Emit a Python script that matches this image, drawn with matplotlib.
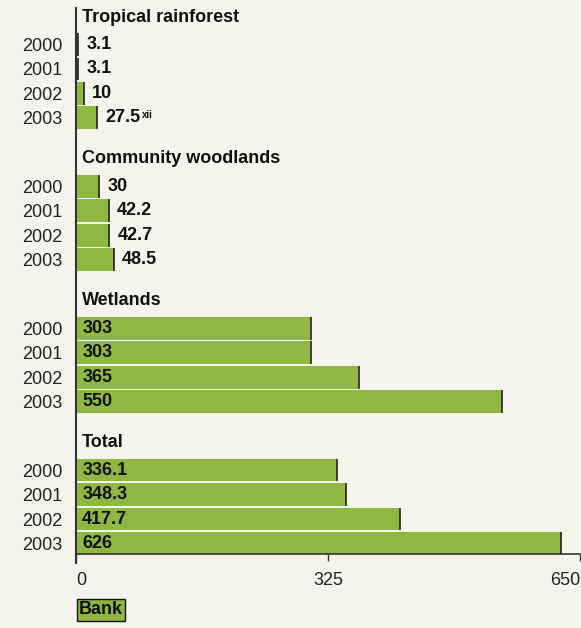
import matplotlib
matplotlib.use("Agg")
import matplotlib.pyplot as plt
from matplotlib.transforms import offset_copy

plt.rcParams['font.family'] = ['Liberation Sans', 'DejaVu Sans']

groups = ["Tropical rainforest", "Community woodlands", "Wetlands", "Total"]
years = ["2000", "2001", "2002", "2003"]
tropical = [3.1, 3.1, 10, 27.5]
woodlands = [30, 42.2, 42.7, 48.5]
wetlands = [303, 303, 365, 550]
total = [336.1, 348.3, 417.7, 626]
value_labels = [["3.1", "3.1", "10", "27.5"],
                ["30", "42.2", "42.7", "48.5"],
                ["303", "303", "365", "550"],
                ["336.1", "348.3", "417.7", "626"]]
notes = {(0, 3): "xii"}
series = [tropical, woodlands, wetlands, total]
xticks = [0, 325, 650]
legend_label = "Bank"

BG = "#f5f4ec"
GREEN = "#8fb843"
TXT = "#111111"
FS = 13

fig = plt.figure(figsize=(5.81, 6.28), dpi=100, facecolor=BG)
ax = fig.add_axes([76/581, 1-554/628, (580-76)/581, (554-8)/628])
ax.set_facecolor(BG)

group_step = 5.8
first_off = 1.12
ypos_all, ylab_all = [], []
tr_in = offset_copy(ax.transData, fig=fig, x=4.5, y=0, units='points')
tr_out = offset_copy(ax.transData, fig=fig, x=6, y=0, units='points')
for g, (name, vals) in enumerate(zip(groups, series)):
    base = g * group_step
    ax.text(0, base, name, transform=tr_in, fontsize=FS, fontweight='bold',
            va='center', ha='left', color=TXT)
    ys = [base + first_off + i for i in range(len(vals))]
    ax.barh(ys, vals, height=0.93, color=GREEN, edgecolor='none', zorder=2)
    ax.vlines(vals, [y - 0.465 for y in ys], [y + 0.465 for y in ys],
              color='#222222', lw=1.2, zorder=3)
    for i, (y, v) in enumerate(zip(ys, vals)):
        lab = value_labels[g][i]
        if v > 100:
            t = ax.text(0, y, lab, transform=tr_in, fontsize=FS, fontweight='bold',
                        va='center', ha='left', color=TXT, zorder=4)
        else:
            t = ax.text(v, y, lab, transform=tr_out, fontsize=FS, fontweight='bold',
                        va='center', ha='left', color=TXT, zorder=4)
        if (g, i) in notes:
            ax.annotate(notes[(g, i)], xy=(1.02, 0.98), xycoords=t, fontsize=7,
                        fontweight='bold', va='top', ha='left', color=TXT)
    ypos_all += ys
    ylab_all += years

ax.set_yticks(ypos_all)
ax.set_yticklabels(ylab_all, fontsize=FS, color='#222222')
ax.tick_params(axis='y', length=0, pad=10)
ax.set_xticks(xticks)
labs = ax.set_xticklabels([str(x) for x in xticks], fontsize=FS, color='#222222')
labs[-1].set_horizontalalignment('right')
labs[0].set_horizontalalignment('left')
ax.tick_params(axis='x', length=5, width=1, color='#333333', pad=8, direction='out')
ax.set_xlim(0, 650)
ax.set_ylim(21.95, -0.37)

ax.spines['top'].set_visible(False)
ax.spines['right'].set_visible(False)
ax.spines['left'].set_visible(False)
ax.plot([0, 0], [-0.016, 1], transform=ax.transAxes, color='#333333', lw=1.5,
        clip_on=False, zorder=5)
ax.spines['bottom'].set_color('#333333')
ax.spines['bottom'].set_linewidth(1.2)

fig.text(79/581, 1-610/628, legend_label, fontsize=FS, fontweight='bold', va='center',
         ha='left', color=TXT,
         bbox=dict(boxstyle='square,pad=0.12', facecolor=GREEN, edgecolor='#111111', lw=1))

fig.savefig("out.png", dpi=100, facecolor=BG)
